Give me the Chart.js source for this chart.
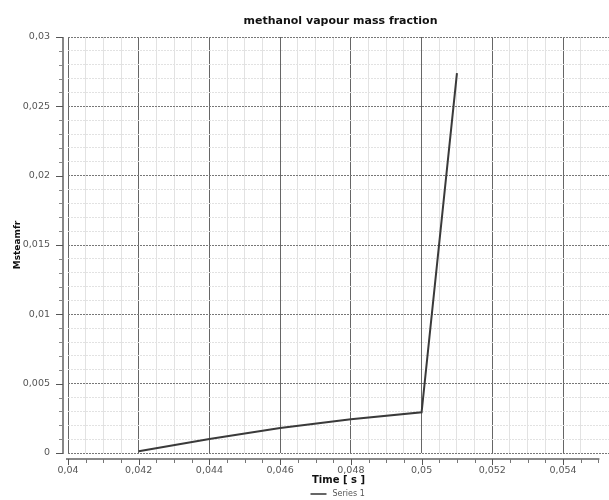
<!DOCTYPE html>
<html lang="en">
<head>
  <meta charset="UTF-8">
  <title>methanol vapour mass fraction</title>
  <script src="https://cdn.jsdelivr.net/npm/chart.js"></script>
  <style>
    body, html {
      margin: 0;
      padding: 0;
      background: #fff;
    }
    #chart {
      display: block;
    }
  </style>
</head>
<body>
  <canvas id="chart" width="609" height="500"></canvas>

  <script>
    // values
    var chartTitle = 'methanol vapour mass fraction';
    var seriesName = 'Series 1';
    var xTitle = 'Time [ s ]';
    var yTitle = 'Msteamfr';
    var timeValues = [0.042, 0.044, 0.045, 0.046, 0.048, 0.05, 0.051];
    var massFraction = [0.00012, 0.00101, 0.0014, 0.0018, 0.00243, 0.00294, 0.0274];

    var xMin = 0.04, xMax = 0.0553, xAxisEnd = 0.055, xMajor = 0.002, xMinor = 0.0005;
    var yMin = 0, yMax = 0.03, yMajor = 0.005, yMinor = 0.001;

    var points = timeValues.map(function(t, i) { return { x: t, y: massFraction[i] }; });

    function isMultiple(v, step) {
      var r = v / step;
      return Math.abs(r - Math.round(r)) < 1e-6;
    }
    function fmt(v) {
      return String(parseFloat(v.toFixed(4))).replace('.', ',');
    }

    // title + legend drawn relative to the plot area, and the detached axis lines
    var decorations = {
      id: 'decorations',
      afterDraw: function(chart) {
        var ctx = chart.ctx;
        var area = chart.chartArea;
        var xs = chart.scales.x, ys = chart.scales.y;
        var cx = (area.left + area.right) / 2;
        ctx.save();

        // title
        ctx.fillStyle = '#111';
        ctx.font = 'bold 11px "DejaVu Sans"';
        ctx.textAlign = 'center';
        ctx.textBaseline = 'middle';
        ctx.fillText(chartTitle, cx + 2, 21);

        // y axis line with ticks
        var axX = area.left - 5;
        ctx.strokeStyle = '#888';
        ctx.lineWidth = 2;
        ctx.beginPath();
        ctx.moveTo(axX, ys.getPixelForValue(yMax));
        ctx.lineTo(axX, ys.getPixelForValue(yMin) + 1);
        ctx.stroke();
        ctx.lineWidth = 1;
        for (var v = yMin; v <= yMax + 1e-9; v += yMinor) {
          var py = Math.round(ys.getPixelForValue(v)) + 0.5;
          var len = isMultiple(v, yMajor) ? 7 : 4;
          ctx.strokeStyle = isMultiple(v, yMajor) ? '#555' : '#888';
          ctx.beginPath();
          ctx.moveTo(axX - len, py);
          ctx.lineTo(axX, py);
          ctx.stroke();
        }

        // x axis line with ticks
        var axY = area.bottom + 6;
        ctx.strokeStyle = '#888';
        ctx.lineWidth = 2;
        ctx.beginPath();
        ctx.moveTo(area.left - 2, axY);
        ctx.lineTo(xs.getPixelForValue(xAxisEnd) + 1, axY);
        ctx.stroke();
        ctx.lineWidth = 1;
        for (var t = xMin; t <= xAxisEnd + 1e-9; t += xMinor) {
          var px = Math.round(xs.getPixelForValue(t)) + 0.5;
          var tl = isMultiple(t, xMajor) ? 6 : 4;
          ctx.strokeStyle = isMultiple(t, xMajor) ? '#555' : '#777';
          ctx.beginPath();
          ctx.moveTo(px, axY);
          ctx.lineTo(px, axY + tl);
          ctx.stroke();
        }

        // legend
        var ly = 494;
        ctx.strokeStyle = '#666';
        ctx.lineWidth = 2;
        ctx.beginPath();
        ctx.moveTo(cx - 28, ly);
        ctx.lineTo(cx - 12, ly);
        ctx.stroke();
        ctx.fillStyle = '#555';
        ctx.font = '8px "DejaVu Sans"';
        ctx.textAlign = 'left';
        ctx.fillText(chart.data.datasets[0].label, cx - 6, ly);

        ctx.restore();
      }
    };

    var ctx = document.getElementById('chart').getContext('2d');
    var chart = new Chart(ctx, {
      type: 'line',
      data: {
        datasets: [{
          label: seriesName,
          data: points,
          borderColor: '#3a3a3a',
          borderWidth: 2,
          pointRadius: 0,
          tension: 0,
          fill: false
        }]
      },
      options: {
        responsive: false,
        animation: false,
        layout: { padding: { top: 37, bottom: 13, left: 0, right: 0 } },
        plugins: {
          legend: { display: false },
          title: { display: false },
          tooltip: { enabled: false }
        },
        scales: {
          x: {
            type: 'linear',
            min: xMin,
            max: xMax,
            afterBuildTicks: function(scale) {
              scale.ticks = scale.ticks.filter(function(t) {
                return t.value <= xAxisEnd + 1e-9 && isMultiple(t.value, xMinor);
              });
            },
            afterFit: function(scale) { scale.height = 34; },
            ticks: {
              stepSize: xMinor,
              autoSkip: false,
              maxRotation: 0,
              padding: 12,
              color: '#555',
              font: { family: 'DejaVu Sans', size: 9.5 },
              callback: function(value) { return isMultiple(value, xMajor) ? fmt(value) : ''; }
            },
            grid: {
              drawTicks: false,
              color: function(c) { return isMultiple(c.tick.value, xMajor) ? '#666' : '#e2e2e2'; },
              lineWidth: 1
            },
            border: { display: false },
            title: {
              display: true,
              text: xTitle,
              color: '#111',
              font: { family: 'DejaVu Sans', size: 10, weight: 'bold' },
              padding: { top: 0, bottom: 1 }
            }
          },
          y: {
            type: 'linear',
            min: yMin,
            max: yMax,
            afterFit: function(scale) { scale.width = 68; },
            ticks: {
              stepSize: yMinor,
              autoSkip: false,
              padding: 18,
              color: '#555',
              font: { family: 'DejaVu Sans', size: 9.5 },
              callback: function(value) { return isMultiple(value, yMajor) ? fmt(value) : ''; }
            },
            grid: {
              drawTicks: false,
              color: function(c) { return isMultiple(c.tick.value, yMajor) ? '#777' : '#e2e2e2'; },
              lineWidth: 1
            },
            border: { display: false, dash: [2, 1] },
            title: {
              display: true,
              text: yTitle,
              color: '#111',
              font: { family: 'DejaVu Sans', size: 9, weight: 'bold' },
              padding: { top: 12, bottom: 0 }
            }
          }
        }
      },
      plugins: [decorations]
    });
  </script>
</body>
</html>
